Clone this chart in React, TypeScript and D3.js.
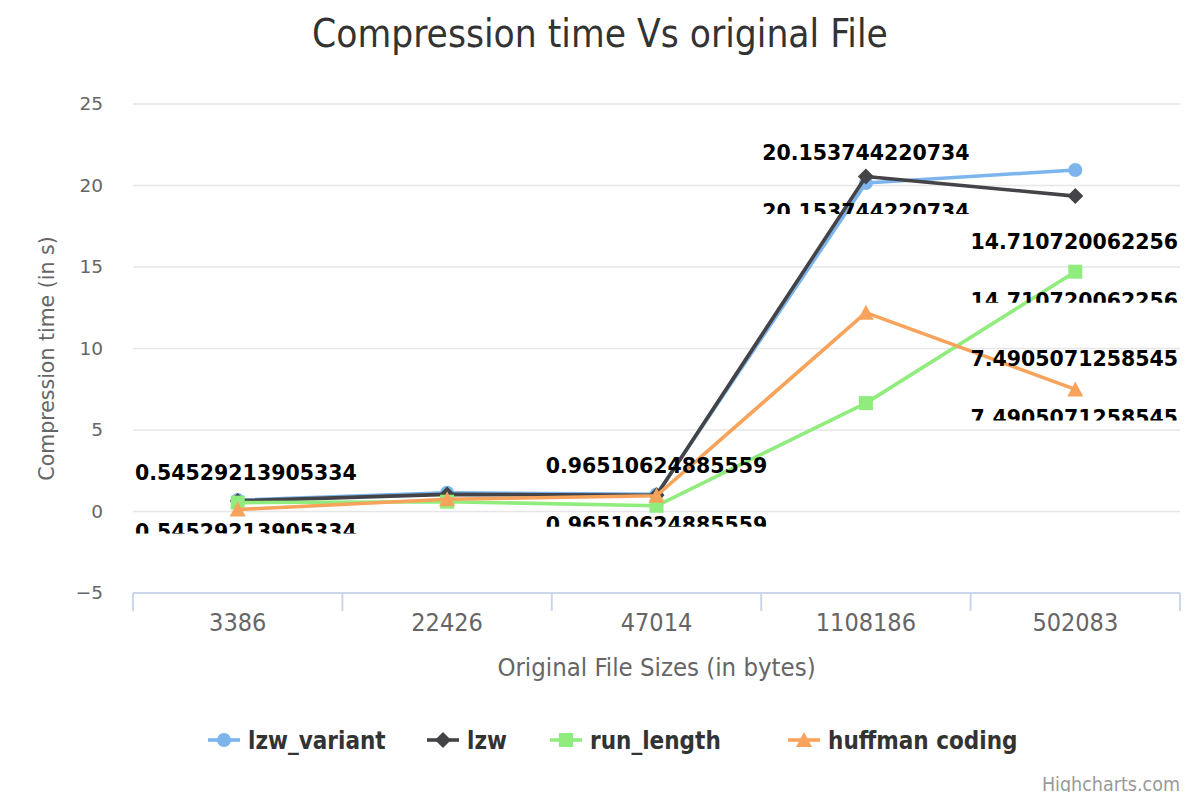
import * as d3 from "d3"

const categories = ["3386", "22426", "47014", "1108186", "502083"]
const lzwVariant = [0.7, 1.15, 1.05, 20.153744220734, 20.95]
const lzw = [0.65, 1.05, 1.0, 20.55, 19.35]
const runLength = [0.54529213905334, 0.6, 0.35, 6.65, 14.710720062256]
const huffman = [0.12, 0.75, 0.96510624885559, 12.2, 7.4905071258545]
const yTicks = [-5, 0, 5, 10, 15, 20, 25]

const seriesNames = ["lzw_variant", "lzw", "run_length", "huffman coding"]
const seriesColors = ["#7cb5ec", "#434348", "#90ed7d", "#f7a35c"]
const seriesMarkers = ["circle", "diamond", "square", "triangle"]
const seriesValues = [lzwVariant, lzw, runLength, huffman]

// points that carry a data label: [series index, category index]
const labelled: [number, number][] = [
  [2, 0],
  [3, 2],
  [0, 3],
  [2, 4],
  [3, 4],
]

const W = 1200
const H = 800
const plot = { left: 133, right: 1180, top: 104, bottom: 593 }
const condensed = "'DejaVu Sans Condensed', 'DejaVu Sans', sans-serif"
const regular = "'DejaVu Sans', sans-serif"

let ctx: CanvasRenderingContext2D | null = null
function textWidth(s: string, font: string) {
  if (!ctx) ctx = document.createElement("canvas").getContext("2d")
  if (!ctx) return s.length * 13
  ctx.font = font
  return ctx.measureText(s).width
}

function marker(type: string, x: number, y: number, color: string, key: string) {
  const r = 7
  if (type === "circle") return <circle key={key} cx={x} cy={y} r={r} fill={color} />
  if (type === "square") return <rect key={key} x={x - r} y={y - r} width={2 * r} height={2 * r} fill={color} />
  if (type === "diamond")
    return <path key={key} d={`M${x},${y - r - 1}L${x + r + 1},${y}L${x},${y + r + 1}L${x - r - 1},${y}Z`} fill={color} />
  return <path key={key} d={`M${x},${y - r - 1}L${x + r + 1},${y + r}L${x - r - 1},${y + r}Z`} fill={color} />
}

export default function App() {
  const x = d3.scaleBand().domain(categories).range([plot.left, plot.right])
  const y = d3.scaleLinear().domain([-5, 25]).range([plot.bottom, plot.top])
  const cx = (i: number) => (x(categories[i]) as number) + x.bandwidth() / 2

  const line = d3
    .line<number>()
    .x((_, i) => cx(i))
    .y((d) => y(d))

  const boundaries = [...categories.map((c) => x(c) as number), plot.right]
  const legendX = [208, 427, 550, 788]
  const labelFont = `bold 20.5px ${regular}`

  return (
    <svg width={W} height={H} style={{ display: "block", margin: -8 }}>
      <rect width={W} height={H} fill="#ffffff" />
      <text x={600} y={47} textAnchor="middle" fontFamily={condensed} fontSize={38.5} fill="#333333">
        Compression time Vs original File
      </text>

      {/* grid + y labels */}
      {yTicks.map((t) => (
        <g key={t}>
          {t > -5 && <line x1={plot.left} x2={plot.right} y1={y(t)} y2={y(t)} stroke="#e6e6e6" strokeWidth={1.5} />}
          <text x={103} y={y(t) + 6} textAnchor="end" fontFamily={regular} fontSize={18.5} fill="#666666">
            {t < 0 ? `\u2212${-t}` : t}
          </text>
        </g>
      ))}
      <text
        transform={`translate(54,${(plot.top + plot.bottom) / 2 + 10}) rotate(-90)`}
        textAnchor="middle"
        fontFamily={regular}
        fontSize={20.5}
        fill="#666666"
      >
        Compression time (in s)
      </text>

      {/* x axis */}
      <line x1={plot.left} x2={plot.right} y1={plot.bottom} y2={plot.bottom} stroke="#ccd6eb" strokeWidth={2} />
      {boundaries.map((b, i) => (
        <line key={i} x1={b} x2={b} y1={plot.bottom} y2={plot.bottom + 18} stroke="#ccd6eb" strokeWidth={2} />
      ))}
      {categories.map((c, i) => (
        <text key={c} x={cx(i)} y={631} textAnchor="middle" fontFamily={condensed} fontSize={25} fill="#666666">
          {c}
        </text>
      ))}
      <text x={(plot.left + plot.right) / 2} y={676} textAnchor="middle" fontFamily={condensed} fontSize={25.5} fill="#666666">
        Original File Sizes (in bytes)
      </text>

      {/* series */}
      {seriesValues.map((vals, s) => (
        <g key={s}>
          <path d={line(vals) || ""} fill="none" stroke={seriesColors[s]} strokeWidth={3.6} strokeLinejoin="round" />
          {vals.map((v, i) => marker(seriesMarkers[s], cx(i), y(v), seriesColors[s], `${s}-${i}`))}
        </g>
      ))}

      {/* data labels */}
      <defs>
        {labelled.map(([s, i], k) => {
          const py = y(seriesValues[s][i])
          return (
            <clipPath key={k} id={`dup${k}`}>
              <rect x={0} y={py + 14} width={W} height={17} />
            </clipPath>
          )
        })}
      </defs>
      {labelled.map(([s, i], k) => {
        const v = seriesValues[s][i]
        const txt = String(v)
        const w = textWidth(txt, labelFont)
        let lx = cx(i)
        lx = Math.max(lx, plot.left + 2 + w / 2)
        lx = Math.min(lx, plot.right - 2 - w / 2)
        const py = y(v)
        return (
          <g key={k} fontFamily={regular} fontWeight="bold" fontSize={20.5} fill="#000000" textAnchor="middle">
            <text x={lx} y={py - 23}>{txt}</text>
            <text x={lx} y={py + 36} clipPath={`url(#dup${k})`}>{txt}</text>
          </g>
        )
      })}

      {/* legend */}
      {seriesNames.map((n, s) => (
        <g key={n}>
          <line x1={legendX[s]} x2={legendX[s] + 32} y1={740} y2={740} stroke={seriesColors[s]} strokeWidth={3.6} />
          {marker(seriesMarkers[s], legendX[s] + 16, 740, seriesColors[s], `lg${s}`)}
          <text x={legendX[s] + 40} y={749} fontFamily={condensed} fontWeight="bold" fontSize={24} fill="#333333">
            {n}
          </text>
        </g>
      ))}

      <text x={1180} y={791} textAnchor="end" fontFamily={condensed} fontSize={19.5} fill="#999999">
        Highcharts.com
      </text>
    </svg>
  )
}
